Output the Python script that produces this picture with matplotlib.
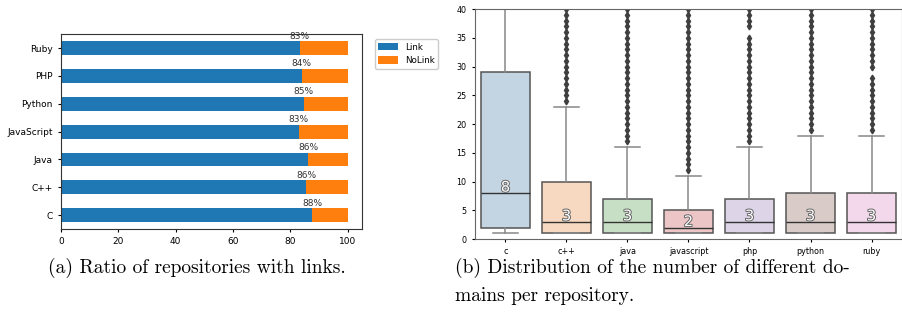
import matplotlib.pyplot as plt
import matplotlib.patheffects as pe

# --- (a) ratio of repositories with links ---
langs_a = ["C", "C++", "Java", "JavaScript", "Python", "PHP", "Ruby"]
link_pct = [87.7, 85.6, 86.2, 82.9, 84.6, 83.9, 83.2]
nolink_pct = [12.5, 14.4, 14.0, 17.1, 15.4, 16.1, 16.8]

# --- (b) distinct domains per repository (box stats) ---
langs_b = ["c", "c++", "java", "javascript", "php", "python", "ruby"]
q1 = [2, 1, 1, 1, 1, 1, 1]
med = [8, 3, 3, 2, 3, 3, 3]
q3 = [29, 10, 7, 5, 7, 8, 8]
whislo = [1, 1, 1, 1, 1, 1, 1]
whishi = [60, 23, 16, 11, 16, 18, 18]
fliers = [
    [],
    [24, 25, 26, 27, 28, 29, 30, 31, 32, 33, 34, 35, 36, 37, 38, 39, 40],
    [17, 18, 19, 20, 21, 22, 23, 24, 25, 26, 27, 28, 29, 30, 31, 32, 33, 34, 35, 36, 37, 38, 39, 40],
    [12, 13, 14, 15, 16, 17, 18, 19, 20, 21, 22, 23, 24, 25, 26, 27, 28, 29, 30, 31, 32, 33, 34, 35,
     36, 37, 38, 39, 40],
    [17, 18, 19, 20, 21, 22, 23, 24, 25, 26, 27, 28, 29, 30, 31, 32, 33, 34, 35, 37, 38, 39, 40],
    [19, 20, 21, 22, 23, 24, 25, 26, 27, 28, 29, 30, 31, 32, 33, 34, 35, 36, 37, 38, 39, 40],
    [19, 20, 21, 22, 23, 24, 25, 26, 27, 28, 30, 31, 32, 33, 34, 35, 36, 37, 38, 39, 40],
]
box_colors = ["#c3d5e2", "#f6d9c0", "#c7e0c5", "#ecc6c6", "#ddd4e8", "#d9ccc8", "#f2d8ea"]

fig = plt.figure(figsize=(9.03, 3.13), dpi=100)

# ================
# (a) barras apiladas
# ================
ax1 = fig.add_axes([0.0676, 0.268, 0.3333, 0.623])
ypos = range(len(langs_a))
ax1.barh(ypos, link_pct, height=0.5, color="#1f77b4", label="Link")
ax1.barh(ypos, nolink_pct, left=link_pct, height=0.5, color="#ff7f0e", label="NoLink")
for y, v in zip(ypos, link_pct):
    ax1.text(v, y + 0.27, f"{round(v)}%", ha="center", va="bottom", fontsize=6.5, color="#333333")
ax1.set_yticks(list(ypos))
ax1.set_yticklabels(langs_a)
ax1.set_xlim(0, 105)
ax1.set_ylim(-0.5, 6.5)
ax1.set_xticks([0, 20, 40, 60, 80, 100])
ax1.tick_params(labelsize=6.5, length=2.5, width=0.8)
for s in ax1.spines.values():
    s.set_color("#333333")
ax1.legend(loc="upper left", bbox_to_anchor=(1.043, 0.974), borderaxespad=0, fontsize=6.3,
           handlelength=2.2, handleheight=0.9, framealpha=1, edgecolor="#cccccc", fancybox=True)

# ================
# (b) boxplot
# ================
ax2 = fig.add_axes([0.526, 0.2364, 0.4729, 0.7348])
stats = []
for i, name in enumerate(langs_b):
    stats.append(dict(label=name, q1=q1[i], med=med[i], q3=q3[i],
                      whislo=whislo[i], whishi=whishi[i], fliers=fliers[i]))
bp = ax2.bxp(stats, positions=range(len(langs_b)), widths=0.8, patch_artist=True,
             boxprops=dict(edgecolor="#555555", linewidth=1.1),
             whiskerprops=dict(color="#888888", linewidth=1.1),
             capprops=dict(color="#888888", linewidth=1.1),
             medianprops=dict(color="#333333", linewidth=1.0),
             flierprops=dict(marker="d", markersize=3.4, markerfacecolor="#3f3f3f",
                             markeredgecolor="#3f3f3f", linestyle="none"))
for patch, c in zip(bp["boxes"], box_colors):
    patch.set_facecolor(c)
for i, m in enumerate(med):
    ax2.text(i, m + 0.25, str(m), ha="center", va="baseline", fontsize=10.5, color="white",
             path_effects=[pe.withStroke(linewidth=1.4, foreground="#666666")])
ax2.set_xlim(-0.5, 6.5)
ax2.set_ylim(0, 40)
ax2.set_yticks([0, 5, 10, 15, 20, 25, 30, 35, 40])
ax2.tick_params(labelsize=5.8, length=2.5, width=0.8)
for s in ax2.spines.values():
    s.set_color("#666666")

# captions
fig.text(0.218, 0.144, "(a) Ratio of repositories with links.", ha="center", va="center",
         family="cmr10", fontsize=14)
fig.text(0.504, 0.144, "(b) Distribution of the number of different do-", ha="left", va="center",
         family="cmr10", fontsize=14)
fig.text(0.504, 0.054, "mains per repository.", ha="left", va="center",
         family="cmr10", fontsize=14)

fig.savefig("out.png", dpi=100)
